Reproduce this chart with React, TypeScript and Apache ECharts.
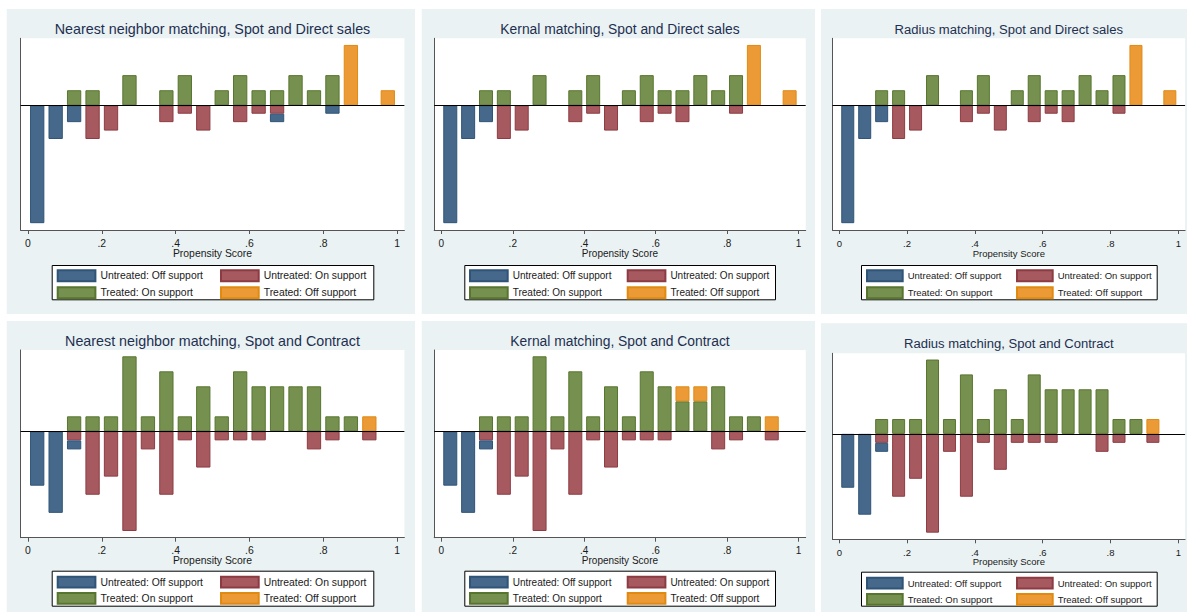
import React, { useEffect, useRef } from "react";
import * as echarts from "echarts";

// ---------- data ----------
const BIN_CENTERS = [
  0.025, 0.075, 0.125, 0.175, 0.225, 0.275, 0.325, 0.375, 0.425, 0.475,
  0.525, 0.575, 0.625, 0.675, 0.725, 0.775, 0.825, 0.875, 0.925, 0.975,
];
const X_TICKS = [0, 0.2, 0.4, 0.6, 0.8, 1];
const X_TICK_LABELS = ["0", ".2", ".4", ".6", ".8", "1"];
const X_TITLE = "Propensity Score";
const SERIES_NAMES = [
  "Untreated: Off support",
  "Untreated: On support",
  "Treated: On support",
  "Treated: Off support",
];
const TITLES = [
  "Nearest neighbor matching, Spot and Direct sales",
  "Kernal matching, Spot and Direct sales",
  "Radius matching, Spot and Direct sales",
  "Nearest neighbor matching, Spot and Contract",
  "Kernal matching, Spot and Contract",
  "Radius matching, Spot and Contract",
];

// Spot and Direct sales
const NN_DIRECT_TREATED_ON = [0, 0, 1, 1, 0, 2, 0, 1, 2, 0, 1, 2, 1, 1, 2, 1, 2, 0, 0, 0];
const NN_DIRECT_TREATED_OFF = [0, 0, 0, 0, 0, 0, 0, 0, 0, 0, 0, 0, 0, 0, 0, 0, 0, 4, 0, 1];
const NN_DIRECT_UNTREATED_ON = [0, 0, 0, 4, 3, 0, 0, 2, 1, 3, 0, 2, 1, 1, 0, 0, 0, 0, 0, 0];
const NN_DIRECT_UNTREATED_OFF = [14, 4, 2, 0, 0, 0, 0, 0, 0, 0, 0, 0, 0, 1, 0, 0, 1, 0, 0, 0];

const KR_DIRECT_TREATED_ON = [0, 0, 1, 1, 0, 2, 0, 1, 2, 0, 1, 2, 1, 1, 2, 1, 2, 0, 0, 0];
const KR_DIRECT_TREATED_OFF = [0, 0, 0, 0, 0, 0, 0, 0, 0, 0, 0, 0, 0, 0, 0, 0, 0, 4, 0, 1];
const KR_DIRECT_UNTREATED_ON = [0, 0, 0, 4, 3, 0, 0, 2, 1, 3, 0, 2, 1, 2, 0, 0, 1, 0, 0, 0];
const KR_DIRECT_UNTREATED_OFF = [14, 4, 2, 0, 0, 0, 0, 0, 0, 0, 0, 0, 0, 0, 0, 0, 0, 0, 0, 0];

const RD_DIRECT_TREATED_ON = [0, 0, 1, 1, 0, 2, 0, 1, 2, 0, 1, 2, 1, 1, 2, 1, 2, 0, 0, 0];
const RD_DIRECT_TREATED_OFF = [0, 0, 0, 0, 0, 0, 0, 0, 0, 0, 0, 0, 0, 0, 0, 0, 0, 4, 0, 1];
const RD_DIRECT_UNTREATED_ON = [0, 0, 0, 4, 3, 0, 0, 2, 1, 3, 0, 2, 1, 2, 0, 0, 1, 0, 0, 0];
const RD_DIRECT_UNTREATED_OFF = [14, 4, 2, 0, 0, 0, 0, 0, 0, 0, 0, 0, 0, 0, 0, 0, 0, 0, 0, 0];

// Spot and Contract
const NN_CONTRACT_TREATED_ON = [0, 0, 1, 1, 1, 5, 1, 4, 1, 3, 1, 4, 3, 3, 3, 3, 1, 1, 0, 0];
const NN_CONTRACT_TREATED_OFF = [0, 0, 0, 0, 0, 0, 0, 0, 0, 0, 0, 0, 0, 0, 0, 0, 0, 0, 1, 0];
const NN_CONTRACT_UNTREATED_ON = [0, 0, 1, 7, 5, 11, 2, 7, 1, 4, 1, 1, 1, 0, 0, 2, 1, 0, 1, 0];
const NN_CONTRACT_UNTREATED_OFF = [6, 9, 1, 0, 0, 0, 0, 0, 0, 0, 0, 0, 0, 0, 0, 0, 0, 0, 0, 0];

const KR_CONTRACT_TREATED_ON = [0, 0, 1, 1, 1, 5, 1, 4, 1, 3, 1, 4, 3, 2, 2, 3, 1, 1, 0, 0];
const KR_CONTRACT_TREATED_OFF = [0, 0, 0, 0, 0, 0, 0, 0, 0, 0, 0, 0, 0, 1, 1, 0, 0, 0, 1, 0];
const KR_CONTRACT_UNTREATED_ON = [0, 0, 1, 7, 5, 11, 2, 7, 1, 4, 1, 1, 1, 0, 0, 2, 1, 0, 1, 0];
const KR_CONTRACT_UNTREATED_OFF = [6, 9, 1, 0, 0, 0, 0, 0, 0, 0, 0, 0, 0, 0, 0, 0, 0, 0, 0, 0];

const RD_CONTRACT_TREATED_ON = [0, 0, 1, 1, 1, 5, 1, 4, 1, 3, 1, 4, 3, 3, 3, 3, 1, 1, 0, 0];
const RD_CONTRACT_TREATED_OFF = [0, 0, 0, 0, 0, 0, 0, 0, 0, 0, 0, 0, 0, 0, 0, 0, 0, 0, 1, 0];
const RD_CONTRACT_UNTREATED_ON = [0, 0, 1, 7, 5, 11, 2, 7, 1, 4, 1, 1, 1, 0, 0, 2, 1, 0, 1, 0];
const RD_CONTRACT_UNTREATED_OFF = [6, 9, 1, 0, 0, 0, 0, 0, 0, 0, 0, 0, 0, 0, 0, 0, 0, 0, 0, 0];

const PANEL_DATA = [
  [NN_DIRECT_UNTREATED_OFF, NN_DIRECT_UNTREATED_ON, NN_DIRECT_TREATED_ON, NN_DIRECT_TREATED_OFF],
  [KR_DIRECT_UNTREATED_OFF, KR_DIRECT_UNTREATED_ON, KR_DIRECT_TREATED_ON, KR_DIRECT_TREATED_OFF],
  [RD_DIRECT_UNTREATED_OFF, RD_DIRECT_UNTREATED_ON, RD_DIRECT_TREATED_ON, RD_DIRECT_TREATED_OFF],
  [NN_CONTRACT_UNTREATED_OFF, NN_CONTRACT_UNTREATED_ON, NN_CONTRACT_TREATED_ON, NN_CONTRACT_TREATED_OFF],
  [KR_CONTRACT_UNTREATED_OFF, KR_CONTRACT_UNTREATED_ON, KR_CONTRACT_TREATED_ON, KR_CONTRACT_TREATED_OFF],
  [RD_CONTRACT_UNTREATED_OFF, RD_CONTRACT_UNTREATED_ON, RD_CONTRACT_TREATED_ON, RD_CONTRACT_TREATED_OFF],
];

// ---------- styles / layout ----------
const FONT = "'Liberation Sans', Arial, Helvetica, sans-serif";
const FILL = ["#46698b", "#a65a60", "#76914f", "#eb9a35"];
const EDGE = ["#2f5477", "#8d3b42", "#58752f", "#e08a12"];
const PANEL_BG = "#eaf2f3";
const AXIS_COLOR = "#555555";
const TITLE_COLOR = "#1e2f50";
const TEXT_COLOR = "#1a1a1a";

const COLS = [
  { left: 20.6, width: 383.8, cx: 212.5, titleSize: 14.3, small: 10.4, barW: 14.3, bgX: 6.7, bgW: 408.3, boxX: 51.7, boxW: 321.6, legA: 56.7, legB: 220, sw: 37.7 },
  { left: 434.2, width: 371.5, cx: 620, titleSize: 13.85, small: 10, barW: 14, bgX: 421.7, bgW: 393.3, boxX: 464.3, boxW: 310.7, legA: 469, legB: 626.7, sw: 37.7 },
  { left: 832.5, width: 352.6, cx: 1008.8, titleSize: 13.05, small: 9.5, barW: 13, bgX: 821, bgW: 366, boxX: 861, boxW: 295.7, legA: 866, legB: 1016, sw: 35.7 },
];
const ROWS = [
  { top: 38.3, height: 191.7, titleY: 29.3, bgY: 9, bgH: 305, boxY: 265, boxH: 34.3, legTop: 269.3, swH: 11, swGap: 4, tMin: -8.26, tMax: 4.44, uMin: -7.96, uMax: 14.81, labelMargin: 9.6, nameGap: 18.4 },
  { top: 350, height: 187.7, titleY: 340.7, bgY: 321, bgH: 291, boxY: 570.7, boxH: 35, legTop: 575.7, swH: 10.7, swGap: 3.6, tMin: -7.09, tMax: 5.42, uMin: -8.97, uMax: 11.74, labelMargin: 8.8, nameGap: 17.6 },
];
const PANEL6_OVERRIDE = { top: 353.3, height: 186, titleY: 343.3, bgY: 323.3, bgH: 288.7, boxY: 571.7, boxH: 34, legTop: 576.7 };

function buildOption() {
  const grid: any[] = [];
  const xAxis: any[] = [];
  const yAxis: any[] = [];
  const series: any[] = [];
  const title: any[] = [];
  const legend: any[] = [];
  const graphic: any[] = [];

  for (let i = 0; i < 6; i++) {
    const col = COLS[i % 3];
    const row = i === 5 ? { ...ROWS[1], ...PANEL6_OVERRIDE } : ROWS[Math.floor(i / 3)];

    graphic.push({
      type: "rect",
      z: -10,
      silent: true,
      shape: { x: col.bgX, y: row.bgY, width: col.bgW, height: row.bgH },
      style: { fill: PANEL_BG },
    });
    graphic.push({
      type: "rect",
      z: 1,
      silent: true,
      shape: { x: col.boxX + 0.5, y: row.boxY + 0.5, width: col.boxW, height: row.boxH },
      style: { fill: "#ffffff", stroke: "#000000", lineWidth: 1 },
    });

    grid.push({
      left: col.left,
      top: row.top,
      width: col.width,
      height: row.height,
      show: true,
      backgroundColor: "#ffffff",
      borderWidth: 0,
      containLabel: false,
      outerBoundsMode: "none",
    });

    xAxis.push({
      type: "value",
      gridIndex: i,
      min: -0.02,
      max: 1.02,
      position: "bottom",
      axisLine: { show: true, onZero: false, lineStyle: { color: AXIS_COLOR, width: 1 } },
      axisTick: { show: true, length: 4, customValues: X_TICKS, lineStyle: { color: AXIS_COLOR } },
      axisLabel: {
        show: true,
        customValues: X_TICKS,
        margin: row.labelMargin,
        fontSize: col.small,
        lineHeight: 8.5,
        fontFamily: FONT,
        color: TEXT_COLOR,
        formatter: (v: number) => {
          const k = X_TICKS.findIndex((t) => Math.abs(t - v) < 1e-9);
          return k >= 0 ? X_TICK_LABELS[k] : "";
        },
      },
      splitLine: { show: false },
      name: X_TITLE,
      nameLocation: "middle",
      nameGap: row.nameGap,
      nameMoveOverlap: false,
      nameTextStyle: { fontSize: col.small, lineHeight: 10, fontFamily: FONT, color: TEXT_COLOR },
    });

    yAxis.push({
      type: "value",
      gridIndex: i,
      min: row.tMin,
      max: row.tMax,
      position: "left",
      axisLine: { show: true, onZero: false, lineStyle: { color: AXIS_COLOR, width: 1 } },
      axisTick: { show: false },
      axisLabel: { show: false },
      splitLine: { show: false },
    });
    yAxis.push({
      type: "value",
      gridIndex: i,
      min: row.uMin,
      max: row.uMax,
      inverse: true,
      show: false,
      splitLine: { show: false },
    });

    const data = PANEL_DATA[i];
    // treated stack upwards (on support first, off support on top);
    // untreated stack downwards on an inverted axis (on support first, off support below)
    const order = [2, 3, 1, 0];
    order.forEach((k) => {
      const isTreated = k >= 2;
      const s: any = {
        name: SERIES_NAMES[k],
        type: "bar",
        xAxisIndex: i,
        yAxisIndex: isTreated ? 2 * i : 2 * i + 1,
        stack: (isTreated ? "t" : "u") + i,
        barWidth: col.barW,
        barGap: "-100%",
        // value first so that the stacked dimension is the bar height
        encode: { x: 1, y: 0 },
        data: BIN_CENTERS.map((x, j) => [data[k][j] === 0 ? "-" : data[k][j], x]),
        itemStyle: { color: FILL[k], borderColor: EDGE[k], borderWidth: 1 },
        emphasis: { disabled: true },
        silent: true,
      };
      if (k === 2) {
        s.markLine = {
          silent: true,
          symbol: "none",
          z: 5,
          label: { show: false },
          emphasis: { disabled: true },
          lineStyle: { color: "#000000", width: 1, type: "solid" },
          data: [{ yAxis: 0 }],
        };
      }
      series.push(s);
    });

    title.push({
      text: TITLES[i],
      left: col.cx,
      top: row.titleY,
      textAlign: "center",
      textVerticalAlign: "middle",
      padding: 0,
      textStyle: { fontSize: col.titleSize, fontWeight: "normal", color: TITLE_COLOR, fontFamily: FONT },
    });

    const legCommon = {
      orient: "vertical",
      top: row.legTop,
      padding: 0,
      itemWidth: col.sw,
      itemHeight: row.swH,
      itemGap: row.swGap,
      icon: "rect",
      selectedMode: false,
      z: 4,
      textStyle: { fontSize: col.small, fontFamily: FONT, color: TEXT_COLOR, lineHeight: row.swH },
    };
    legend.push({ ...legCommon, left: col.legA, data: [SERIES_NAMES[0], SERIES_NAMES[2]] });
    legend.push({ ...legCommon, left: col.legB, data: [SERIES_NAMES[1], SERIES_NAMES[3]] });
  }

  return {
    animation: false,
    backgroundColor: "#ffffff",
    title,
    legend,
    grid,
    xAxis,
    yAxis,
    series,
    graphic: { elements: graphic },
  };
}

export default function App() {
  const ref = useRef<HTMLDivElement>(null);
  useEffect(() => {
    if (!ref.current) return;
    const chart = echarts.init(ref.current, undefined, { renderer: "svg" });
    chart.setOption(buildOption() as any);
    return () => chart.dispose();
  }, []);
  return (
    <div
      ref={ref}
      style={{ position: "absolute", left: 0, top: 0, width: 1189, height: 614 }}
    />
  );
}
